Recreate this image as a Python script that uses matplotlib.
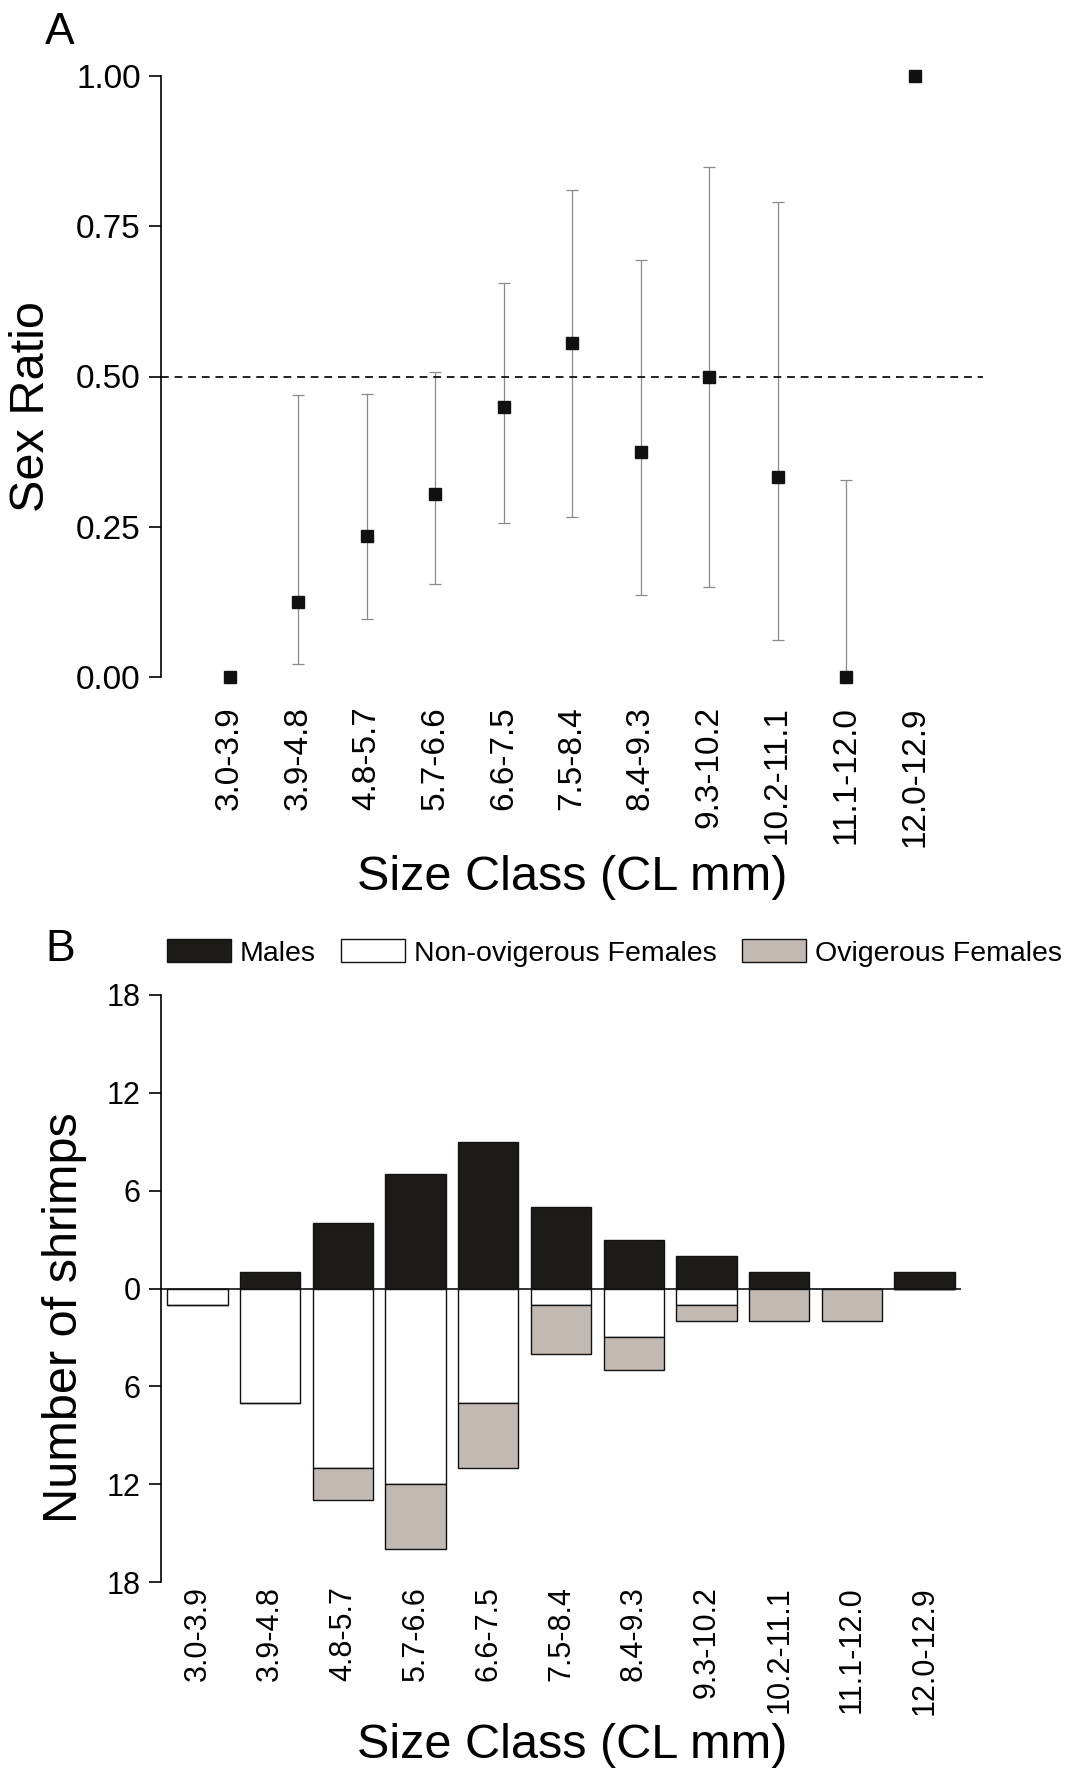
import numpy as np
import matplotlib
matplotlib.use("Agg")
import matplotlib.pyplot as plt
from matplotlib.patches import Patch

plt.rcParams['font.family'] = ['Liberation Sans', 'DejaVu Sans']

classes = ["3.0-3.9", "3.9-4.8", "4.8-5.7", "5.7-6.6", "6.6-7.5", "7.5-8.4",
           "8.4-9.3", "9.3-10.2", "10.2-11.1", "11.1-12.0", "12.0-12.9"]
males = [0, 1, 4, 7, 9, 5, 3, 2, 1, 0, 1]
nonovig = [1, 7, 11, 12, 7, 1, 3, 1, 0, 0, 0]
ovig = [0, 0, 2, 4, 4, 3, 2, 1, 2, 2, 0]
ratio = [0.0, 0.125, 0.235, 0.304, 0.45, 0.556, 0.375, 0.5, 0.333, 0.0, 1.0]
ci_low = [np.nan, 0.022, 0.096, 0.155, 0.257, 0.267, 0.136, 0.150, 0.062, 0.0, np.nan]
ci_high = [np.nan, 0.470, 0.471, 0.507, 0.656, 0.810, 0.694, 0.848, 0.790, 0.328, np.nan]

W, H = 1067, 1773
fig = plt.figure(figsize=(W / 100, H / 100), dpi=100)

def box(l, t, r, b):
    return [l / W, 1 - b / H, (r - l) / W, (b - t) / H]

x = np.arange(len(classes))
lab_fs = 35

# ---- panel A
ax1 = fig.add_axes(box(161, 76, 983, 677))
r = np.array(ratio)
lo = np.array(ci_low)
hi = np.array(ci_high)
has = ~np.isnan(lo)
ax1.errorbar(x[has], r[has], yerr=[r[has] - lo[has], hi[has] - r[has]], fmt='none',
             ecolor='#8a8a8a', elinewidth=0.9, capsize=4, capthick=0.9, clip_on=False)
ax1.plot(x, r, 's', color='#111111', markersize=8, clip_on=False, zorder=5)
ax1.axhline(0.5, color='#222222', lw=1.4, ls=(0, (4, 3)))
ax1.set_xlim(-1, 11)
ax1.set_ylim(0, 1)
ax1.set_yticks([0, 0.25, 0.5, 0.75, 1.0])
ax1.set_yticklabels(["0.00", "0.25", "0.50", "0.75", "1.00"])
ax1.set_xticks(x)
ax1.set_xticklabels(classes, rotation=90)
for s in ['top', 'right', 'bottom']:
    ax1.spines[s].set_visible(False)
ax1.spines['left'].set_linewidth(1.2)
ax1.tick_params(axis='y', labelsize=24, length=8.5, width=1.2, pad=6)
ax1.tick_params(axis='x', labelsize=24, length=0, pad=21)
fig.text(32 / W, 1 - 407 / H, "Sex Ratio", rotation=90, fontsize=lab_fs, ha='center', va='center')
fig.text(572 / W, 1 - 877 / H, "Size Class (CL mm)", fontsize=lab_fs, ha='center', va='center')
fig.text(45 / W, 1 - 12 / H, "A", fontsize=32, ha='left', va='top')

# ---- panel B
ax2 = fig.add_axes(box(161, 995, 961, 1582))
bw = 0.83
ax2.bar(x, males, bw, color='#1c1b18', edgecolor='#111111', lw=1.0)
ax2.bar(x, [-v for v in nonovig], bw, color='white', edgecolor='#111111', lw=1.0)
ax2.bar(x, [-v for v in ovig], bw, bottom=[-v for v in nonovig], color='#c2b9b3',
        edgecolor='#111111', lw=1.0)
ax2.axhline(0, color='#111111', lw=1.2)
ax2.set_xlim(-0.5, 10.5)
ax2.set_ylim(-18, 18)
yt = [-18, -12, -6, 0, 6, 12, 18]
ax2.set_yticks(yt)
ax2.set_yticklabels([str(abs(v)) for v in yt])
ax2.set_xticks(x)
ax2.set_xticklabels(classes, rotation=90)
for s in ['top', 'right', 'bottom']:
    ax2.spines[s].set_visible(False)
ax2.spines['left'].set_linewidth(1.2)
ax2.tick_params(axis='y', labelsize=22, length=8.5, width=1.2, pad=6)
ax2.tick_params(axis='x', labelsize=22, length=0, pad=3)
fig.text(65 / W, 1 - 1318 / H, "Number of shrimps", rotation=90, fontsize=lab_fs, ha='center', va='center')
fig.text(572 / W, 1 - 1746 / H, "Size Class (CL mm)", fontsize=lab_fs, ha='center', va='center')
fig.text(45 / W, 1 - 929 / H, "B", fontsize=32, ha='left', va='top')

handles = [Patch(facecolor='#1c1b18', edgecolor='#111111', label='Males'),
           Patch(facecolor='white', edgecolor='#111111', label='Non-ovigerous Females'),
           Patch(facecolor='#c2b9b3', edgecolor='#111111', label='Ovigerous Females')]
fig.legend(handles=handles, loc='center left', bbox_to_anchor=(167 / W, 1 - 953 / H),
           ncol=3, frameon=False, fontsize=20.5, handlelength=2.25, handleheight=0.87,
           handletextpad=0.3, columnspacing=0.9, borderpad=0, borderaxespad=0)

fig.savefig("out.png", dpi=100)
